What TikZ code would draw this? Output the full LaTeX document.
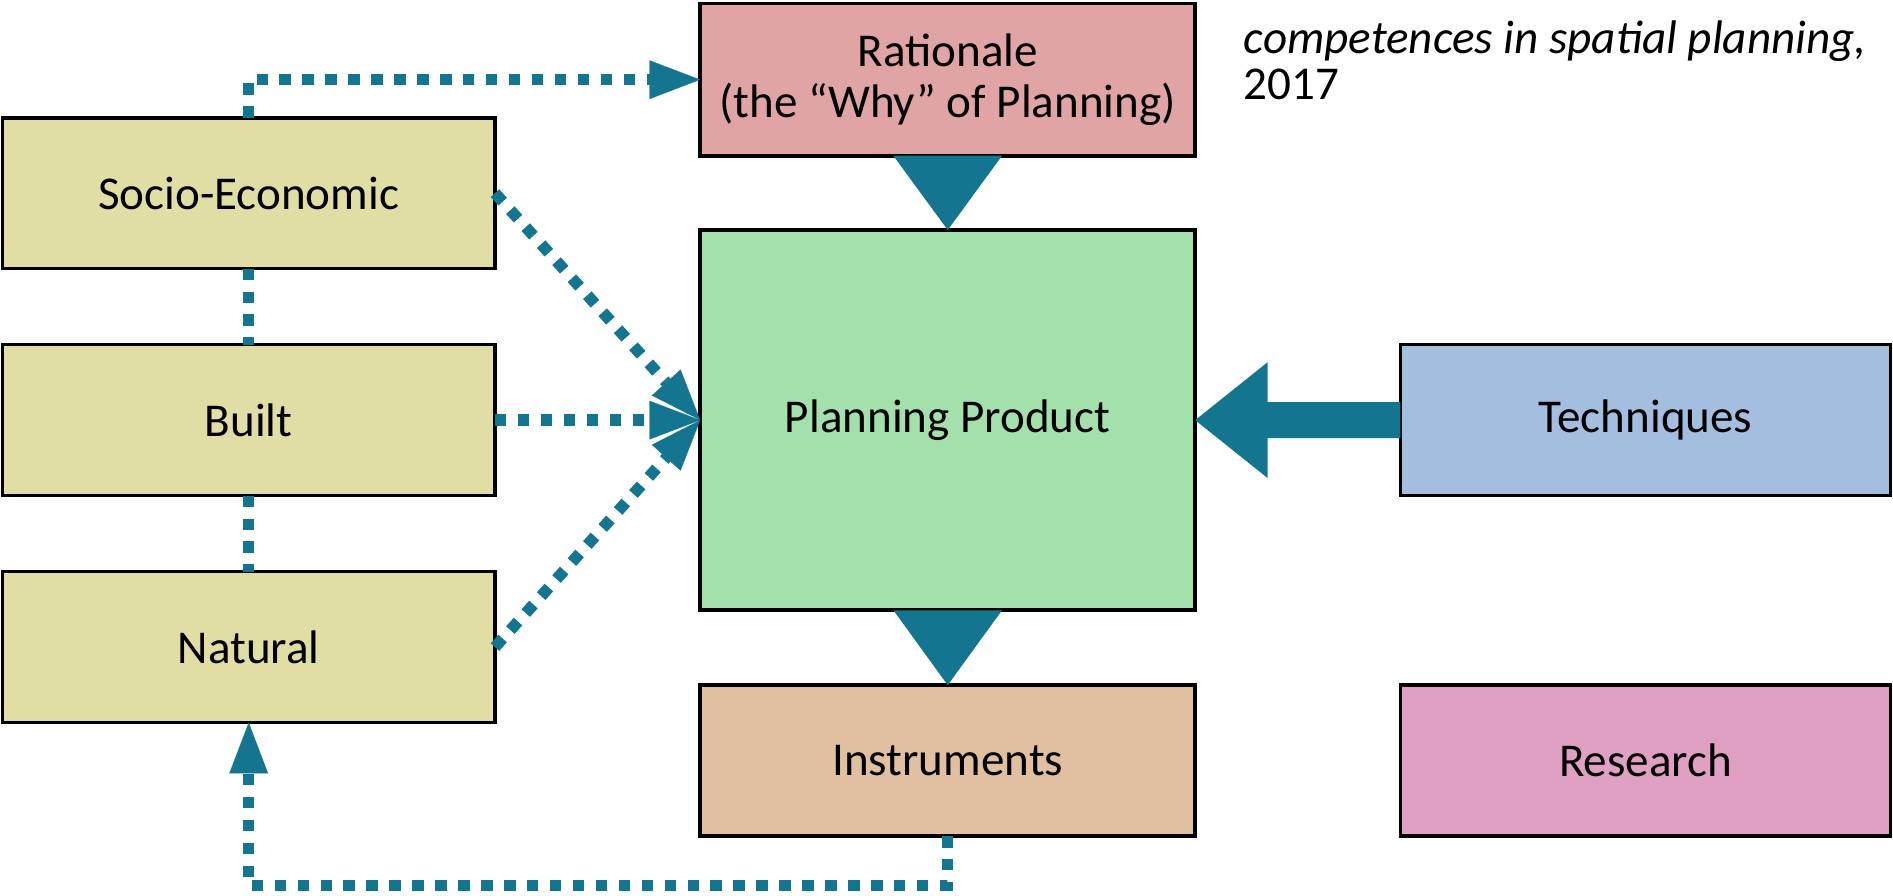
\documentclass[tikz,border=0pt]{standalone}
\usepackage{fontspec}
\setmainfont{Carlito}
\usetikzlibrary{arrows.meta}
\definecolor{arr}{HTML}{13758F}
\definecolor{envc}{HTML}{E0DEA4}
\definecolor{ratc}{HTML}{E0A4A4}
\definecolor{ppc}{HTML}{A3E0AB}
\definecolor{instc}{HTML}{E0C0A0}
\definecolor{techc}{HTML}{A4BEE0}
\definecolor{resc}{HTML}{E0A0C4}
\begin{document}
\begin{tikzpicture}[x=0.5pt,y=-0.5pt,
  box/.style={draw=black, line width=1.5pt, inner sep=0pt, outer sep=0pt,
    minimum width=204pt, minimum height=62.5pt,
    font=\fontsize{19.5}{21}\selectfont, align=center},
  dotln/.style={draw=arr, line width=4.75pt, dash pattern=on 4.75pt off 4.75pt},
  dotarrow/.style={dotln, -{Triangle[length=21pt,width=16pt,line width=0.1pt]}},
]
\useasboundingbox (0,0) rectangle (1568,742);
% boxes
\node[box, fill=envc] (soc) at (206,160) {Socio-Economic};
\node[box, fill=envc] (built) at (206,348) {Built};
\node[box, fill=envc] (nat) at (206,536) {Natural};
\node[box, fill=ratc, minimum width=205pt, minimum height=63pt] (rat) at (785,66) {Rationale\\(the “Why” of Planning)};
\node[box, fill=ppc, minimum width=205pt, minimum height=157.5pt] (pp) at (785,348) {Planning Product};
\node[box, fill=instc, minimum width=205pt] (inst) at (785,630) {Instruments};
\node[box, fill=techc, minimum width=203pt] (tech) at (1363,348) {Techniques};
\node[box, fill=resc, minimum width=203pt] (res) at (1363,630) {Research};
% note text
\node[anchor=north west, inner sep=0pt, align=left,
  font=\fontsize{19.5}{19}\selectfont] (note) at (1030,17)
  {\itshape competences in spatial planning,\\2017};
% dotted connectors
\draw[dotln] (soc.south) -- (built.north);
\draw[dotln] (built.south) -- (nat.north);
\draw[dotarrow] (soc.north) |- (rat.west);
\draw[dotarrow] (soc.east) -- (pp.west);
\draw[dotarrow] (built.east) -- (pp.west);
\draw[dotarrow] (nat.east) -- (pp.west);
\draw[dotarrow] (inst.south) -- ([yshift=-20.5pt]inst.south) -| (nat.south);
% solid block arrows
\fill[arr] ([xshift=-22.5pt]rat.south) -- ([xshift=22.5pt]rat.south) -- (pp.north) -- cycle;
\fill[arr] ([xshift=-22.5pt]pp.south) -- ([xshift=22.5pt]pp.south) -- (inst.north) -- cycle;
\fill[arr] ([yshift=7.5pt]tech.west) -- ([xshift=30pt,yshift=7.5pt]pp.east)
  -- ([xshift=30pt,yshift=24pt]pp.east) -- (pp.east)
  -- ([xshift=30pt,yshift=-24pt]pp.east) -- ([xshift=30pt,yshift=-7.5pt]pp.east)
  -- ([yshift=-7.5pt]tech.west) -- cycle;
\end{tikzpicture}
\end{document}
